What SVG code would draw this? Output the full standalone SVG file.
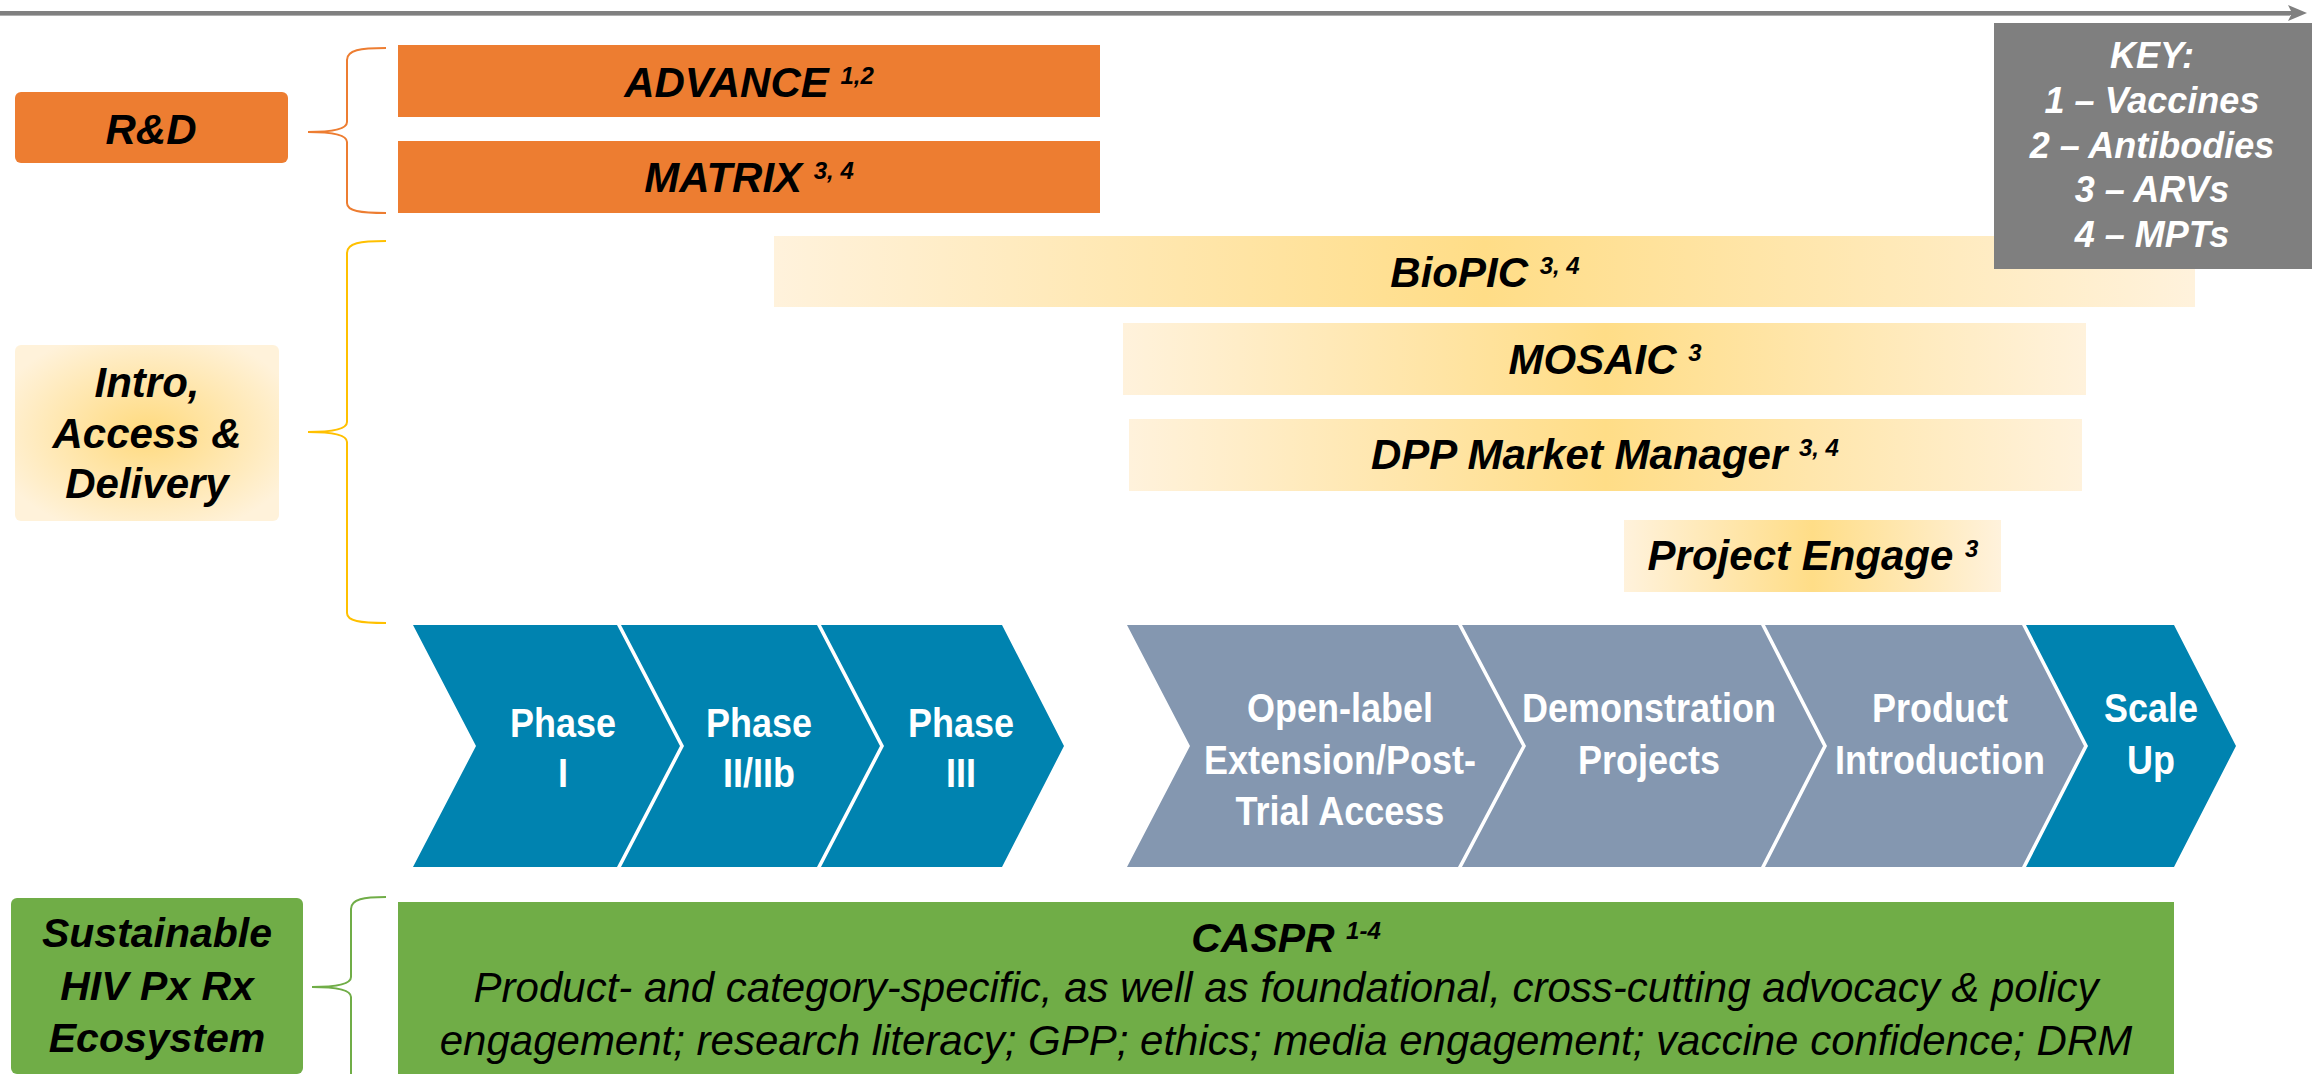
<svg xmlns="http://www.w3.org/2000/svg" width="2312" height="1074" viewBox="0 0 2312 1074">
<defs>
<linearGradient id="barGrad" x1="0" y1="0" x2="1" y2="0">
<stop offset="0" stop-color="#FFF2DC"/>
<stop offset="0.5" stop-color="#FFDD87"/>
<stop offset="1" stop-color="#FFF2DC"/>
</linearGradient>
<radialGradient id="introGrad" cx="0.5" cy="0.5" r="0.6">
<stop offset="0" stop-color="#FFDA7E"/>
<stop offset="1" stop-color="#FFF2DA"/>
</radialGradient>
<style>
.lbl{font-family:"Liberation Sans",Arial,sans-serif;font-weight:bold;font-style:italic;fill:#000;text-anchor:middle}
.key{font-family:"Liberation Sans",Arial,sans-serif;font-weight:bold;font-style:italic;fill:#fff;text-anchor:middle;font-size:36px}
.chev{font-family:"Liberation Sans",Arial,sans-serif;font-weight:bold;fill:#fff;text-anchor:middle;font-size:36px}
.desc{font-family:"Liberation Sans",Arial,sans-serif;font-style:italic;fill:#000;text-anchor:middle;font-size:42px}
.sup{font-size:24px}
.orange{fill:#ED7D31}
.green{fill:#70AD47}
.blue{fill:#0083B0}
.slate{fill:#8497B0}
.brace{fill:none;stroke-width:2}
</style>
</defs>
<rect width="2312" height="1074" fill="#fff"/>

<g id="timeline">
<line x1="0" y1="13" x2="2292" y2="13" stroke="#808080" stroke-width="4"/>
<line x1="0" y1="15.5" x2="2290" y2="15.5" stroke="#B0B0B0" stroke-width="1"/>
<polygon points="2288,5 2307,13 2288,21 2292,13" fill="#808080"/>
</g>

<g id="connectors">
<path class="brace" stroke="#ED7D31" d="M386,48 C360,48 347,50 347,60 L347,122 C347,130 330,132 308,132 C330,132 347,134 347,142 L347,203 C347,211 360,213 386,213"/>
<path class="brace" stroke="#FFC000" d="M386,241 C360,241 347,243 347,253 L347,422 C347,430 330,432 308,432 C330,432 347,434 347,442 L347,613 C347,621 360,623 386,623"/>
<path class="brace" stroke="#70AD47" d="M386,897 C364,897 351,899 351,909 L351,977 C351,985 334,987 312,987 C334,987 351,989 351,997 L351,1080"/>
</g>

<g id="rd">
<rect class="orange" x="15" y="92" width="273" height="71" rx="6"/>
<text class="lbl" x="151" y="144" font-size="42">R&amp;D</text>
</g>

<g id="advance">
<rect class="orange" x="398" y="45" width="702" height="72"/>
<text class="lbl" x="749" y="97" font-size="42">ADVANCE <tspan class="sup" dy="-13">1,2</tspan></text>
</g>

<g id="matrix">
<rect class="orange" x="398" y="141" width="702" height="72"/>
<text class="lbl" x="749" y="192" font-size="42">MATRIX <tspan class="sup" dy="-13">3, 4</tspan></text>
</g>

<g id="intro">
<rect x="15" y="345" width="264" height="176" rx="6" fill="url(#introGrad)"/>
<text class="lbl" x="147" y="397" font-size="42">Intro,</text>
<text class="lbl" x="147" y="448" font-size="42">Access &amp;</text>
<text class="lbl" x="147" y="498" font-size="42">Delivery</text>
</g>

<g id="biopic">
<rect x="774" y="236" width="1421" height="71" fill="url(#barGrad)"/>
<text class="lbl" x="1485" y="287" font-size="42">BioPIC <tspan class="sup" dy="-13">3, 4</tspan></text>
</g>

<g id="key">
<rect x="1994" y="23" width="318" height="246" fill="#7F7F7F"/>
<text class="key" x="2152" y="68">KEY:</text>
<text class="key" x="2152" y="113">1 – Vaccines</text>
<text class="key" x="2152" y="158">2 – Antibodies</text>
<text class="key" x="2152" y="202">3 – ARVs</text>
<text class="key" x="2152" y="247">4 – MPTs</text>
</g>

<g id="mosaic">
<rect x="1123" y="323" width="963" height="72" fill="url(#barGrad)"/>
<text class="lbl" x="1605" y="374" font-size="42">MOSAIC <tspan class="sup" dy="-13">3</tspan></text>
</g>

<g id="dpp">
<rect x="1129" y="419" width="953" height="72" fill="url(#barGrad)"/>
<text class="lbl" x="1605" y="469" font-size="42">DPP Market Manager <tspan class="sup" dy="-13">3, 4</tspan></text>
</g>

<g id="engage">
<rect x="1624" y="520" width="377" height="72" fill="url(#barGrad)"/>
<text class="lbl" x="1813" y="570" font-size="42">Project Engage <tspan class="sup" dy="-13">3</tspan></text>
</g>

<g id="phase1">
<polygon class="blue" points="413,625 617,625 680,746 617,867 413,867 476,746"/>
<g transform="scale(1,1.12)">
<text class="chev" x="563" y="658">Phase</text>
<text class="chev" x="563" y="702.7">I</text>
</g>
</g>
<g id="phase2">
<polygon class="blue" points="621,625 817,625 880,746 817,867 621,867 684,746"/>
<g transform="scale(1,1.12)">
<text class="chev" x="759" y="658">Phase</text>
<text class="chev" x="759" y="702.7">II/IIb</text>
</g>
</g>
<g id="phase3">
<polygon class="blue" points="821,625 1002,625 1064,746 1002,867 821,867 884,746"/>
<g transform="scale(1,1.12)">
<text class="chev" x="961" y="658">Phase</text>
<text class="chev" x="961" y="702.7">III</text>
</g>
</g>

<g id="openlabel">
<polygon class="slate" points="1127,625 1458,625 1522,746 1458,867 1127,867 1190,746"/>
<g transform="scale(1,1.12)">
<text class="chev" x="1340" y="644.6">Open-label</text>
<text class="chev" x="1340" y="691.1">Extension/Post-</text>
<text class="chev" x="1340" y="736.6">Trial Access</text>
</g>
</g>
<g id="demo">
<polygon class="slate" points="1462,625 1761,625 1823,746 1761,867 1462,867 1526,746"/>
<g transform="scale(1,1.12)">
<text class="chev" x="1649" y="644.6">Demonstration</text>
<text class="chev" x="1649" y="691.1">Projects</text>
</g>
</g>
<g id="product">
<polygon class="slate" points="1765,625 2022,625 2084,746 2022,867 1765,867 1827,746"/>
<g transform="scale(1,1.12)">
<text class="chev" x="1940" y="644.6">Product</text>
<text class="chev" x="1940" y="691.1">Introduction</text>
</g>
</g>
<g id="scaleup">
<polygon class="blue" points="2026,625 2174,625 2236,746 2174,867 2026,867 2088,746"/>
<g transform="scale(1,1.12)">
<text class="chev" x="2151" y="644.6">Scale</text>
<text class="chev" x="2151" y="691.1">Up</text>
</g>
</g>

<g id="sustainable">
<rect class="green" x="11" y="898" width="292" height="176" rx="6"/>
<text class="lbl" x="157" y="947" font-size="41">Sustainable</text>
<text class="lbl" x="157" y="1000" font-size="41">HIV Px Rx</text>
<text class="lbl" x="157" y="1052" font-size="41">Ecosystem</text>
</g>

<g id="caspr">
<rect class="green" x="398" y="902" width="1776" height="180"/>
<text class="lbl" x="1286" y="952" font-size="41">CASPR <tspan class="sup" dy="-13">1-4</tspan></text>
<text class="desc" x="1286" y="1002">Product- and category-specific, as well as foundational, cross-cutting advocacy &amp; policy</text>
<text class="desc" x="1286" y="1055">engagement; research literacy; GPP; ethics; media engagement; vaccine confidence; DRM</text>
</g>
</svg>
